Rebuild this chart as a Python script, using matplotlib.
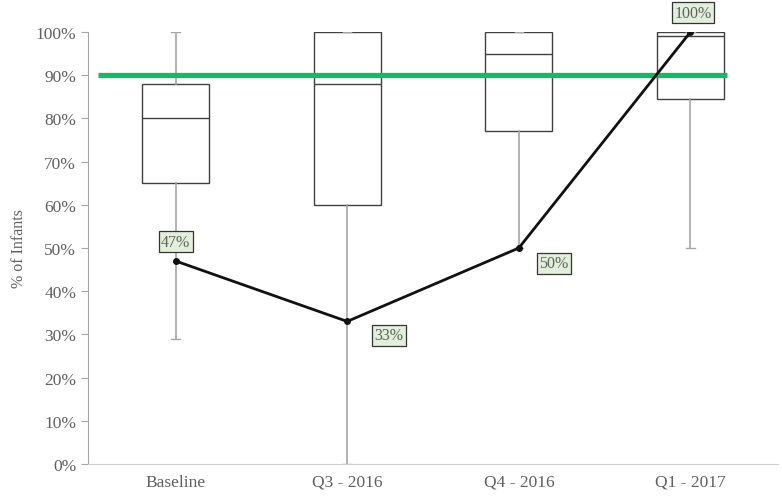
import matplotlib
matplotlib.use("Agg")
import matplotlib.pyplot as plt
from matplotlib.ticker import PercentFormatter

categories = ["Baseline", "Q3 - 2016", "Q4 - 2016", "Q1 - 2017"]
whisker_low = [0.29, 0.00, 0.50, 0.50]
quart_low = [0.65, 0.60, 0.77, 0.845]
medians = [0.80, 0.88, 0.95, 0.99]
quart_high = [0.88, 1.00, 1.00, 1.00]
whisker_high = [1.00, 1.00, 1.00, 1.00]
unit_values = [0.47, 0.33, 0.50, 1.00]
target = 0.90

plt.rcParams["font.family"] = ["Liberation Serif", "DejaVu Serif"]
grey_text = "#606060"

fig = plt.figure(figsize=(7.82, 5.02), dpi=100)
ax = fig.add_axes([88 / 782, 37 / 502, 690 / 782, 432 / 502])

stats = []
for i, cat in enumerate(categories):
    stats.append(dict(label=cat, whislo=whisker_low[i], q1=quart_low[i], med=medians[i],
                      q3=quart_high[i], whishi=whisker_high[i], fliers=[]))
positions = list(range(len(categories)))
ax.bxp(stats, positions=positions, widths=0.39, showfliers=False, patch_artist=True,
       boxprops=dict(facecolor="white", edgecolor="#404040", linewidth=1.0),
       medianprops=dict(color="#404040", linewidth=1.0),
       whiskerprops=dict(color="#a6a6a6", linewidth=1.2),
       capprops=dict(color="#a6a6a6", linewidth=1.0), capwidths=0.05,
       zorder=2)

# target line
ax.plot([-0.45, 3.21], [target, target], color="#1bb46a", linewidth=3.8, zorder=3,
        solid_capstyle="butt")

# unit line
ax.plot(positions, unit_values, color="#111111", linewidth=2.0, marker="o",
        markersize=4, zorder=4)

label_offsets = [(0, 14), (30, -10), (25, -11), (2, 14)]
for x, v, off in zip(positions, unit_values, label_offsets):
    ax.annotate(f"{v:.0%}", (x, v), xytext=off, textcoords="offset points",
                ha="center", va="center", fontsize=11.5, color=grey_text, zorder=5,
                bbox=dict(boxstyle="square,pad=0.15", facecolor="#e2efda",
                          edgecolor="#333333", linewidth=0.9))

ax.set_xlim(-0.51, 3.51)
ax.set_ylim(0, 1)
ax.set_yticks([i / 10 for i in range(11)])
ax.yaxis.set_major_formatter(PercentFormatter(1.0, decimals=0))
ax.set_xticks(positions)
ax.set_xticklabels(categories)
ax.tick_params(axis="x", length=0, labelsize=12.5, labelcolor=grey_text, pad=7)
ax.tick_params(axis="y", length=5, color="#a6a6a6", labelsize=12.5, labelcolor=grey_text)

for side in ["top", "right"]:
    ax.spines[side].set_visible(False)
ax.spines["left"].set_color("#a6a6a6")
ax.spines["bottom"].set_color("#d0d0d0")

ax.set_ylabel("% of Infants", fontsize=11.5, color=grey_text, labelpad=6)

fig.savefig("out.png", dpi=100)
